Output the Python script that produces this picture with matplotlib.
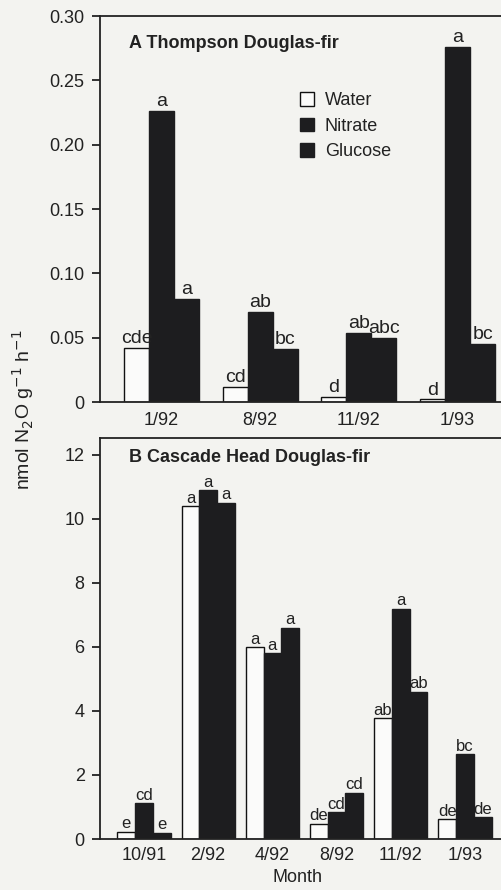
import matplotlib
matplotlib.use('Agg')
import matplotlib.pyplot as plt
from matplotlib.patches import Patch
import numpy as np

plt.rcParams['font.family'] = ['Liberation Sans', 'DejaVu Sans']

# ---------------- data ----------------
treatments = ['Water', 'Nitrate', 'Glucose']

months_a = ['1/92', '8/92', '11/92', '1/93']
water_a = [0.042, 0.012, 0.004, 0.002]
nitrate_a = [0.226, 0.070, 0.054, 0.276]
glucose_a = [0.080, 0.041, 0.050, 0.045]
letters_water_a = ['cde', 'cd', 'd', 'd']
letters_nitrate_a = ['a', 'ab', 'ab', 'a']
letters_glucose_a = ['a', 'bc', 'abc', 'bc']
yticks_a = [0, 0.05, 0.10, 0.15, 0.20, 0.25, 0.30]

months_b = ['10/91', '2/92', '4/92', '8/92', '11/92', '1/93']
water_b = [0.22, 10.4, 6.0, 0.47, 3.78, 0.62]
nitrate_b = [1.12, 10.9, 5.8, 0.84, 7.2, 2.65]
glucose_b = [0.19, 10.5, 6.6, 1.44, 4.6, 0.68]
letters_water_b = ['e', 'a', 'a', 'de', 'ab', 'de']
letters_nitrate_b = ['cd', 'a', 'a', 'cd', 'a', 'bc']
letters_glucose_b = ['e', 'a', 'a', 'cd', 'ab', 'de']
yticks_b = [0, 2, 4, 6, 8, 10, 12]

title_a = 'A Thompson Douglas-fir'
title_b = 'B Cascade Head Douglas-fir'
ylabel = 'nmol N$_2$O g$^{-1}$ h$^{-1}$'
xlabel = 'Month'

# ---------------- style ----------------
BG = '#f3f3f0'
INK = '#222222'
DARK = '#1d1d1f'
W, H = 502, 890

fig = plt.figure(figsize=(W / 100, H / 100), dpi=100, facecolor=BG)


def px_axes(left, top, right, bottom):
    return fig.add_axes([left / W, 1 - bottom / H, (right - left) / W, (bottom - top) / H])


def style_axes(ax, yticks, fmt, tick_fs=13, xpad=6):
    ax.set_facecolor(BG)
    for s in ax.spines.values():
        s.set_linewidth(1.3)
        s.set_color(INK)
    ax.set_yticks(yticks)
    ax.set_yticklabels([fmt(v) for v in yticks])
    ax.tick_params(axis='y', direction='out', length=6, width=1.3, pad=5,
                   labelsize=tick_fs, colors=INK)
    ax.tick_params(axis='x', length=0, pad=xpad, labelsize=tick_fs, colors=INK)


def draw_panel(ax, months, series, letters, width, letter_fs, offset_pts):
    x = np.arange(len(months))
    colors = ['#fbfbfa', DARK, DARK]
    for i, (vals, labs) in enumerate(zip(series, letters)):
        xs = x + (i - 1) * width
        ax.bar(xs, vals, width=width, color=colors[i],
               edgecolor='#111111' if i == 0 else DARK, linewidth=1.0,
               align='center', zorder=2)
        for xi, v, lab in zip(xs, vals, labs):
            ax.annotate(lab, (xi, v), xytext=(0, offset_pts), textcoords='offset points',
                        ha='center', va='baseline', fontsize=letter_fs, color=INK)
    ax.set_xticks(x)
    ax.set_xticklabels(months)


# Panel A
axA = px_axes(100, 16, 520, 402)
wA = 0.253
draw_panel(axA, months_a, [water_a, nitrate_a, glucose_a],
           [letters_water_a, letters_nitrate_a, letters_glucose_a], wA, 14, 3.5)
axA.set_xlim(-0.623, 3.632)
axA.set_ylim(0, 0.30)
style_axes(axA, yticks_a, lambda v: '0' if v == 0 else f'{v:.2f}', xpad=7)

handles = [Patch(facecolor='#fbfbfa', edgecolor='#111111', linewidth=1.0),
           Patch(facecolor=DARK, edgecolor=DARK),
           Patch(facecolor=DARK, edgecolor=DARK)]
axA.legend(handles, treatments, loc='upper left',
           bbox_to_anchor=(300 / W, 1 - 92 / H), bbox_transform=fig.transFigure,
           frameon=False, fontsize=13, handlelength=0.78, handleheight=0.78,
           handletextpad=0.6, labelspacing=0.47, borderpad=0, borderaxespad=0,
           labelcolor=INK)

# Panel B
axB = px_axes(100, 438, 520, 839)
wB = 0.276
draw_panel(axB, months_b, [water_b, nitrate_b, glucose_b],
           [letters_water_b, letters_nitrate_b, letters_glucose_b], wB, 12, 2.5)
axB.set_xlim(-0.685, 5.857)
axB.set_ylim(0, 12.53)
style_axes(axB, yticks_b, lambda v: f'{v:g}', xpad=6)

# Titles and labels
fig.text(129 / W, 1 - 43 / H, title_a, ha='left', va='center', fontsize=13,
         fontweight='bold', color=INK)
fig.text(129 / W, 1 - 457 / H, title_b, ha='left', va='center', fontsize=13,
         fontweight='bold', color=INK)
fig.text(23 / W, 1 - 410 / H, ylabel, rotation=90, ha='center', va='center',
         fontsize=14, color=INK)
fig.text(297 / W, 1 - 878 / H, xlabel, ha='center', va='center', fontsize=13, color=INK)

fig.savefig('out.png', dpi=100, facecolor=BG)
